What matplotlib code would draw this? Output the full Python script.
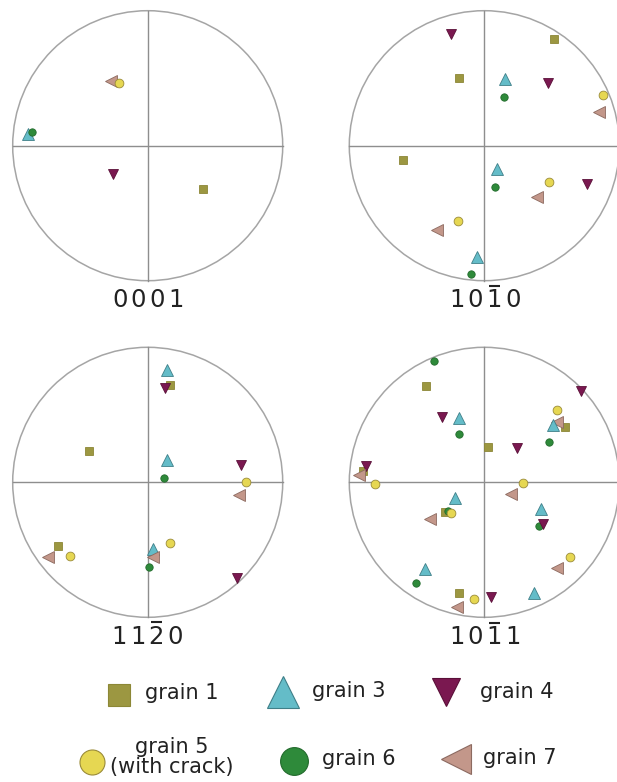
import matplotlib
matplotlib.use("Agg")
import matplotlib.pyplot as plt
from matplotlib.patches import Circle

W, H, DPI = 617, 782, 100

# ---------------- data ----------------
grain_ids = [1, 3, 4, 5, 6, 7]
grain_labels = ["grain 1", "grain 3", "grain 4", "grain 5\n(with crack)", "grain 6", "grain 7"]
plane_labels = ["0001", "101\u03040", "112\u03040", "101\u03041"]

# pole figure {0001}  (x, y in units of the projection radius)
pf1_grain = [7, 5, 3, 6, 4, 1]
pf1_x = [-0.272, -0.215, -0.884, -0.859, -0.254, 0.407]
pf1_y = [0.481, 0.462, 0.086, 0.104, -0.210, -0.319]

# pole figure {10-10}
pf2_grain = [4, 1, 1, 3, 4, 6, 5, 7, 1, 3, 6, 5, 4, 7, 5, 7, 3, 6]
pf2_x = [-0.247, 0.516, -0.185, 0.153, 0.474, 0.146, 0.881, 0.849, -0.600,
         0.096, 0.079, 0.477, 0.763, 0.390, -0.193, -0.353, -0.057, -0.101]
pf2_y = [0.825, 0.788, 0.499, 0.491, 0.467, 0.358, 0.375, 0.252, -0.106,
         -0.175, -0.309, -0.269, -0.284, -0.378, -0.556, -0.625, -0.822, -0.953]

# pole figure {11-20}
pf3_grain = [3, 1, 4, 1, 3, 6, 4, 5, 7, 1, 7, 5, 5, 3, 7, 6, 4]
pf3_x = [0.146, 0.165, 0.128, -0.432, 0.146, 0.123, 0.689, 0.728, 0.674,
         -0.662, -0.736, -0.575, 0.165, 0.042, 0.042, 0.012, 0.664]
pf3_y = [0.832, 0.721, 0.696, 0.232, 0.165, 0.030, 0.128, 0.005, -0.094,
         -0.469, -0.551, -0.546, -0.452, -0.496, -0.556, -0.630, -0.711]

# pole figure {10-11}
pf4_grain = [6, 1, 4, 5, 1, 7, 3, 6, 4, 3, 6, 1, 4, 1, 4, 7, 5, 5, 7, 3,
             1, 6, 5, 7, 3, 6, 4, 5, 7, 3, 6, 1, 5, 4, 3, 7]
pf4_x = [-0.373, -0.435, 0.716, 0.536, 0.598, 0.536, 0.506, 0.477, -0.311, -0.188,
         -0.188, 0.030, 0.242, -0.896, -0.879, -0.926, -0.810, 0.284, 0.198, -0.217,
         -0.291, -0.267, -0.247, -0.402, 0.422, 0.402, 0.437, 0.635, 0.541, -0.440,
         -0.509, -0.185, -0.077, 0.049, 0.370, -0.205]
pf4_y = [0.901, 0.716, 0.679, 0.536, 0.412, 0.449, 0.422, 0.301, 0.486, 0.474,
         0.358, 0.264, 0.252, 0.086, 0.123, 0.054, -0.015, -0.007, -0.086, -0.119,
         -0.217, -0.210, -0.230, -0.274, -0.200, -0.323, -0.309, -0.551, -0.637, -0.644,
         -0.743, -0.817, -0.867, -0.847, -0.822, -0.921]

pole_figures = [(pf1_grain, pf1_x, pf1_y), (pf2_grain, pf2_x, pf2_y),
                (pf3_grain, pf3_x, pf3_y), (pf4_grain, pf4_x, pf4_y)]

# ---------------- styles / layout ----------------
style = {
    1: dict(marker="s", face="#9c9741", edge="#8c8736", ms=5.8, lms=16.5),
    3: dict(marker="^", face="#64bcc8", edge="#3f7f88", ms=8.0, lms=23),
    4: dict(marker="v", face="#7a1850", edge="#5a1038", ms=7.5, lms=20),
    5: dict(marker="o", face="#e6d752", edge="#9a8b38", ms=6.3, lms=18),
    6: dict(marker="o", face="#2e8a3a", edge="#226a2c", ms=5.3, lms=20),
    7: dict(marker="<", face="#c3978a", edge="#8c6a60", ms=8.0, lms=22),
}
# circle centres (px), radius (px)
centres = [(147.7, 145.7), (484.3, 145.7), (147.7, 482.3), (484.3, 482.3)]
R = 135.0
label_pos = [(148, 307), (485, 307), (147, 643.5), (485, 644)]   # baseline positions
legend_marker_pos = {1: (119, 695), 3: (283, 692), 4: (446, 692),
                     5: (92, 762), 6: (294, 761), 7: (456, 759)}
legend_text_pos = {1: (145, 693), 3: (312, 691), 4: (480, 692),
                   5: (172, 757), 6: (322, 759), 7: (483, 758)}

fig = plt.figure(figsize=(W / DPI, H / DPI), dpi=DPI)
fig.patch.set_facecolor("white")

pad = 1.03
for (cx, cy), (g, xs, ys) in zip(centres, pole_figures):
    half = R * pad
    ax = fig.add_axes([(cx - half) / W, (H - cy - half) / H, 2 * half / W, 2 * half / H])
    ax.set_xlim(-pad, pad)
    ax.set_ylim(-pad, pad)
    ax.set_aspect("equal", adjustable="box")
    ax.axis("off")
    ax.add_patch(Circle((0, 0), 1.0, fill=False, edgecolor="#a5a5a5", lw=1.1, zorder=1))
    ax.plot([-1, 1], [0, 0], color="#8e8e8e", lw=1.0, zorder=1)
    ax.plot([0, 0], [-1, 1], color="#8e8e8e", lw=1.0, zorder=1)
    for gid, x, y in zip(g, xs, ys):
        s = style[gid]
        ax.plot([x], [y], linestyle="none", marker=s["marker"], ms=s["ms"],
                markerfacecolor=s["face"], markeredgecolor=s["edge"], markeredgewidth=0.6,
                zorder=3)

# overlay axes in pixel coordinates for labels and legend
ov = fig.add_axes([0, 0, 1, 1])
ov.set_xlim(0, W)
ov.set_ylim(H, 0)
ov.axis("off")
ov.patch.set_visible(False)

pitch = 18.8
for (lx, ly), lab in zip(label_pos, plane_labels):
    chars = []
    for ch in lab:
        if ch == "\u0304":
            chars[-1][1] = True
        else:
            chars.append([ch, False])
    n = len(chars)
    for i, (ch, bar) in enumerate(chars):
        px = lx + (i - (n - 1) / 2) * pitch
        ov.text(px, ly, ch, ha="center", va="baseline", fontsize=17.5,
                color="#222222", family="DejaVu Sans")
        if bar:
            ov.plot([px - 5.5, px + 5.5], [ly - 21.5, ly - 21.5], color="#222222", lw=1.5,
                    solid_capstyle="butt")

for gid, lab in zip(grain_ids, grain_labels):
    s = style[gid]
    mx, my = legend_marker_pos[gid]
    ov.plot([mx], [my], linestyle="none", marker=s["marker"], ms=s["lms"],
            markerfacecolor=s["face"], markeredgecolor=s["edge"], markeredgewidth=0.8)
    tx, ty = legend_text_pos[gid]
    if "\n" in lab:
        ov.text(tx, ty, lab, ha="center", va="center", fontsize=15, color="#222222",
                linespacing=1.0, family="DejaVu Sans")
    else:
        ov.text(tx, ty, lab, ha="left", va="center", fontsize=15, color="#222222",
                family="DejaVu Sans")

fig.savefig("out.png", dpi=DPI, facecolor="white")
